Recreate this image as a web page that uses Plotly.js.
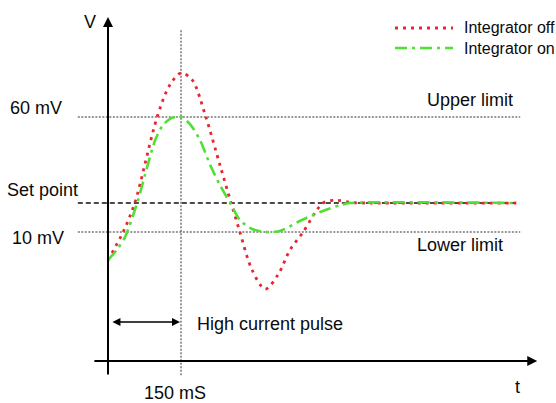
<!DOCTYPE html>
<html>
<head>
<meta charset="utf-8">
<script src="https://cdn.plot.ly/plotly-3.0.1.min.js"></script>
<style>html,body{margin:0;padding:0;background:#fff;}#chart{width:556px;height:403px;}</style>
</head>
<body>
<div id="chart"></div>
<script>
// Time (ms) and voltage (mV)
var tOff = [0, 31, 55, 101, 127, 150, 173, 201, 230, 253, 271, 296, 323, 349, 374, 401, 442, 470, 500, 538, 839];
var vOff = [-2.2, 10, 22.6, 60, 73.9, 79.1, 76.1, 60, 39.1, 22.6, 10, -6.5, -14.8, -8.7, 2.2, 10, 22.6, 23.8, 22.8, 22.6, 22.6];
var tOn = [0, 18, 35, 60, 76, 97, 113, 131, 150, 168, 189, 210, 230, 251, 271, 296, 323, 353, 394, 436, 477, 497, 839];
var vOn = [-2.2, 2.2, 7.8, 22.6, 34.8, 50.0, 56.5, 59.6, 60, 57.0, 50.0, 39.1, 30.4, 22.6, 15.2, 11.3, 10, 10.4, 14.8, 18.7, 21.7, 22.6, 22.6];
var seriesNames = ['Integrator off', 'Integrator on'];
var upperLimit = 60, lowerLimit = 10, setPoint = 22.6, pulseEnd = 150;
var levelLabels = ['60 mV', 'Set point', '10 mV'];
var pulseLabel = 'High current pulse', pulseTick = '150 mS';

var RED = '#e82530', GREEN = '#4ee033';
var FONT = 'Liberation Sans, Arial, Helvetica, sans-serif';
var TXT = '#0a0a0a';

var traces = [
  {x: tOff, y: vOff, mode: 'lines', name: seriesNames[0], line: {color: RED, width: 2.8, dash: '3px,5px', shape: 'spline', smoothing: 0.9}},
  {x: tOn, y: vOn, mode: 'lines', name: seriesNames[1], line: {color: GREEN, width: 2.6, dash: '12px,5px,3px,5px', shape: 'spline', smoothing: 0.7}}
];

var tMin = -62, tMax = 847, vBot = -52.3, vTop = 97.8;
var shapes = [
  {type: 'line', xref: 'x', yref: 'y', x0: tMin, x1: tMax, y0: upperLimit, y1: upperLimit, line: {color: '#333', width: 1.1, dash: '2px,1.5px'}, layer: 'below'},
  {type: 'line', xref: 'x', yref: 'y', x0: tMin, x1: 840, y0: setPoint, y1: setPoint, line: {color: '#111', width: 1.3, dash: '5px,3px'}, layer: 'below'},
  {type: 'line', xref: 'x', yref: 'y', x0: tMin, x1: tMax, y0: lowerLimit, y1: lowerLimit, line: {color: '#333', width: 1.1, dash: '2px,1.5px'}, layer: 'below'},
  {type: 'line', xref: 'x', yref: 'y', x0: pulseEnd, x1: pulseEnd, y0: vBot, y1: vTop, line: {color: '#444', width: 1.1, dash: '2px,1.5px'}, layer: 'below'},
  // legend samples
  {type: 'line', xref: 'paper', yref: 'paper', x0: 395/556, x1: 453/556, y0: 1 - 28/403, y1: 1 - 28/403, line: {color: RED, width: 2.8, dash: '3px,5px'}},
  {type: 'line', xref: 'paper', yref: 'paper', x0: 395/556, x1: 453/556, y0: 1 - 48/403, y1: 1 - 48/403, line: {color: GREEN, width: 2.6, dash: '12px,5px,3px,5px'}}
];

function lab(text, x, y, size, xanchor) {
  return {text: text, x: x, y: y, xref: 'x', yref: 'y', showarrow: false, xanchor: xanchor || 'center', yanchor: 'middle', font: {family: FONT, size: size || 18, color: TXT}};
}
var annotations = [
  // axes with arrows
  {x: 0, y: 103.5, ax: 0, ay: -52.6, xref: 'x', yref: 'y', axref: 'x', ayref: 'y', showarrow: true, arrowhead: 2, arrowsize: 1, arrowwidth: 2, arrowcolor: '#000', standoff: 0, text: ''},
  {x: 882, y: -46.1, ax: -31, ay: -46.1, xref: 'x', yref: 'y', axref: 'x', ayref: 'y', showarrow: true, arrowhead: 2, arrowsize: 1, arrowwidth: 2, arrowcolor: '#000', standoff: 0, text: ''},
  // pulse double arrow
  {x: 148, y: -29.1, ax: 6, ay: -29.1, xref: 'x', yref: 'y', axref: 'x', ayref: 'y', showarrow: true, arrowhead: 2, startarrowhead: 2, arrowside: 'end+start', arrowsize: 1, arrowwidth: 1.6, arrowcolor: '#000', standoff: 0, startstandoff: 0, text: ''},
  lab('V', -37, 101.3),
  lab(levelLabels[0], -148, 63.9),
  lab(levelLabels[1], -133.6, 28.2),
  lab(levelLabels[2], -143.8, 7.4),
  lab('Upper limit', 744, 67.5),
  lab('Lower limit', 723, 4.3),
  lab(pulseLabel, 333, -30),
  lab(pulseTick, 138, -59.9),
  lab('t', 842, -57.4),
  {text: seriesNames[0], x: 462/556, y: 1 - 28/403, xref: 'paper', yref: 'paper', showarrow: false, xanchor: 'left', yanchor: 'middle', font: {family: FONT, size: 16, color: TXT}},
  {text: seriesNames[1], x: 462/556, y: 1 - 48/403, xref: 'paper', yref: 'paper', showarrow: false, xanchor: 'left', yanchor: 'middle', font: {family: FONT, size: 16, color: TXT}}
];

var layout = {
  width: 556, height: 403,
  margin: {l: 0, r: 0, t: 0, b: 0, pad: 0},
  paper_bgcolor: '#fff', plot_bgcolor: '#fff',
  showlegend: false,
  xaxis: {range: [-221.92, 920.55], visible: false, fixedrange: true},
  yaxis: {range: [-64.35, 110.87], visible: false, fixedrange: true},
  shapes: shapes,
  annotations: annotations
};

Plotly.newPlot('chart', traces, layout, {staticPlot: true, displayModeBar: false});
</script>
</body>
</html>
